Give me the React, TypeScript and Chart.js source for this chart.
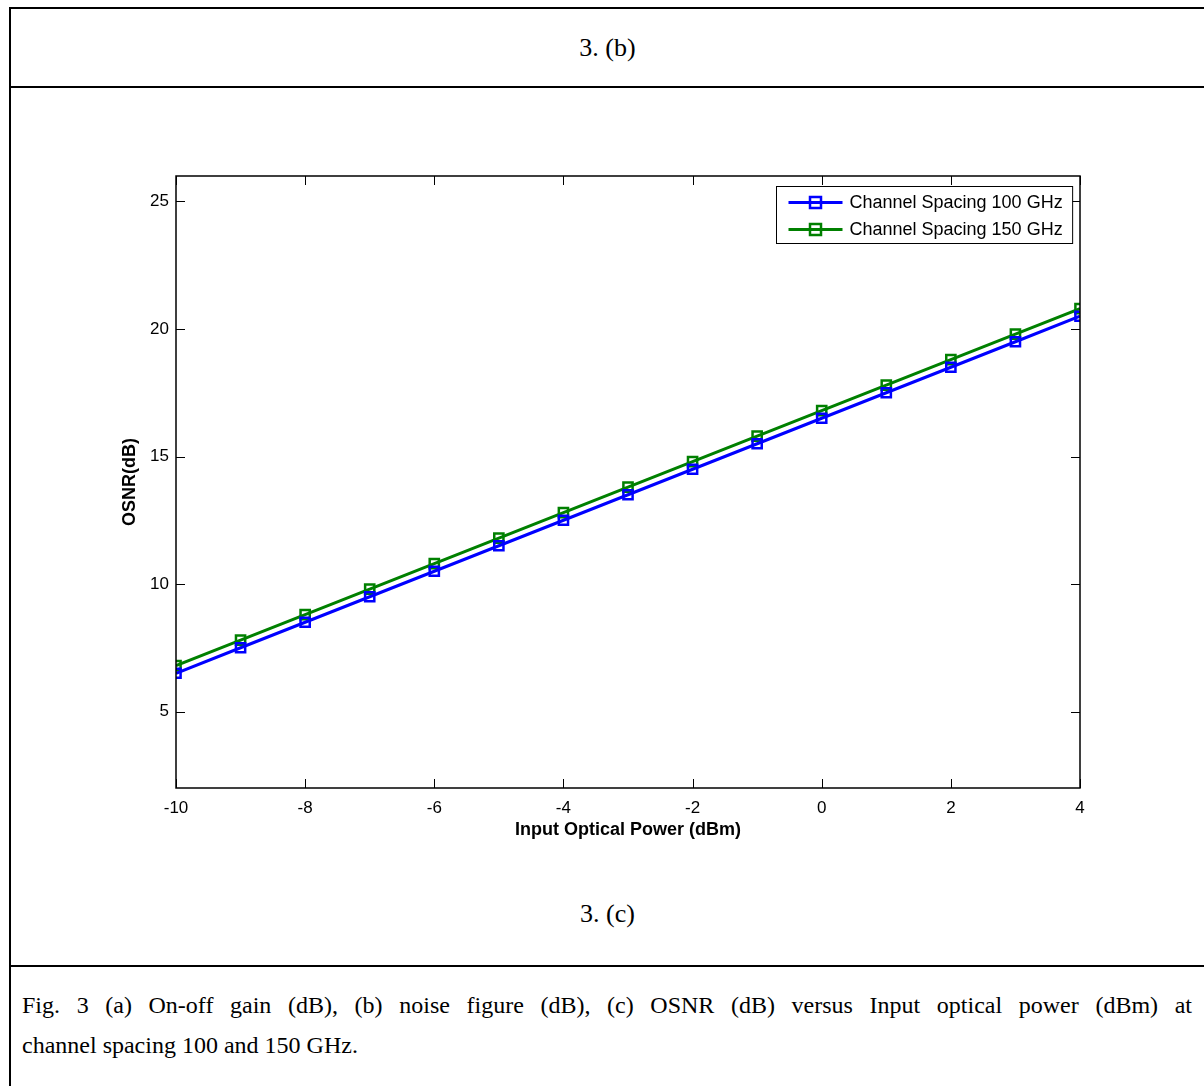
import React, { useEffect, useRef } from "react";
import { Chart, registerables } from "chart.js";

Chart.register(...registerables);

// ---- data ----
const inputPower = [-10, -9, -8, -7, -6, -5, -4, -3, -2, -1, 0, 1, 2, 3, 4];
const osnr100 = [6.5, 7.5, 8.5, 9.5, 10.5, 11.5, 12.5, 13.5, 14.5, 15.5, 16.5, 17.5, 18.5, 19.5, 20.5];
const osnr150 = [6.8, 7.8, 8.8, 9.8, 10.8, 11.8, 12.8, 13.8, 14.8, 15.8, 16.8, 17.8, 18.8, 19.8, 20.8];
const seriesLabels = ["Channel Spacing 100 GHz", "Channel Spacing 150 GHz"];
const xTicks = [-10, -8, -6, -4, -2, 0, 2, 4];
const yTicks = [5, 10, 15, 20, 25];
const xTitle = "Input Optical Power (dBm)";
const yTitle = "OSNR(dB)";
const topLabel = "3. (b)";
const bottomLabel = "3. (c)";
const captionLine1 =
  "Fig. 3 (a) On-off gain (dB), (b) noise figure (dB), (c) OSNR (dB) versus Input optical power (dBm) at";
const captionLine2 = "channel spacing 100 and 150 GHz.";

const SANS = "'Liberation Sans', Arial, Helvetica, sans-serif";
const SERIF = "'Liberation Serif', 'Times New Roman', Times, serif";

const framePlugin = {
  id: "matlabFrame",
  afterDraw(chart: any) {
    const { ctx, chartArea } = chart;
    const { left, right, top, bottom } = chartArea;
    const tl = 9;
    ctx.save();
    ctx.strokeStyle = "#000";
    ctx.lineWidth = 1.5;
    ctx.strokeRect(left, top, right - left, bottom - top);
    ctx.lineWidth = 1;
    const xs = chart.scales.x;
    const ys = chart.scales.y;
    ctx.beginPath();
    xs.ticks.forEach((t: any) => {
      const px = Math.round(xs.getPixelForValue(t.value)) + 0.5;
      ctx.moveTo(px, bottom);
      ctx.lineTo(px, bottom - tl);
      ctx.moveTo(px, top);
      ctx.lineTo(px, top + tl);
    });
    ys.ticks.forEach((t: any) => {
      const py = Math.round(ys.getPixelForValue(t.value)) + 0.5;
      ctx.moveTo(left, py);
      ctx.lineTo(left + tl, py);
      ctx.moveTo(right, py);
      ctx.lineTo(right - tl, py);
    });
    ctx.stroke();

    // legend box (MATLAB style)
    const font = `18px ${SANS}`;
    ctx.font = font;
    const ds = chart.data.datasets;
    const textW = Math.max(...ds.map((d: any) => ctx.measureText(d.label).width));
    const padL = 12, lineLen = 54, gap = 7, padR = 10, rowH = 27;
    const boxW = padL + lineLen + gap + textW + padR;
    const boxH = rowH * ds.length + 3;
    const bx = Math.round(right - 8 - boxW) + 0.5;
    const by = Math.round(top + 10) + 0.5;
    ctx.fillStyle = "#fff";
    ctx.fillRect(bx, by, boxW, boxH);
    ctx.lineWidth = 1;
    ctx.strokeStyle = "#000";
    ctx.strokeRect(bx, by, boxW, boxH);
    ds.forEach((d: any, i: number) => {
      const cy = by + 16 + i * rowH;
      const x0 = bx + padL;
      ctx.strokeStyle = d.borderColor;
      ctx.lineWidth = 3;
      ctx.beginPath();
      ctx.moveTo(x0, cy);
      ctx.lineTo(x0 + lineLen, cy);
      ctx.stroke();
      ctx.lineWidth = 2.5;
      const r = 5.5;
      ctx.strokeRect(x0 + lineLen / 2 - r, cy - r, 2 * r, 2 * r);
      ctx.fillStyle = "#000";
      ctx.textBaseline = "middle";
      ctx.textAlign = "left";
      ctx.font = font;
      ctx.fillText(d.label, x0 + lineLen + gap, cy + 1);
    });
    ctx.restore();
  },
};

export default function App() {
  const ref = useRef<HTMLCanvasElement>(null);

  useEffect(() => {
    if (!ref.current) return;
    const mk = (ys: number[]) => inputPower.map((x, i) => ({ x, y: ys[i] }));
    const style = (color: string) => ({
      borderColor: color,
      borderWidth: 3,
      pointStyle: "rect",
      pointRadius: 6.5,
      pointBorderWidth: 2.5,
      pointBorderColor: color,
      pointBackgroundColor: "rgba(0,0,0,0)",
      tension: 0,
    });
    const chart = new Chart(ref.current, {
      type: "line",
      data: {
        datasets: [
          { label: seriesLabels[0], data: mk(osnr100), ...style("#0000ff") },
          { label: seriesLabels[1], data: mk(osnr150), ...style("#008000") },
        ] as any,
      },
      options: {
        responsive: false,
        animation: false,
        events: [],
        layout: { padding: { left: 28, right: 40, top: 26, bottom: 22 } },
        plugins: { legend: { display: false }, tooltip: { enabled: false } },
        scales: {
          x: {
            type: "linear",
            min: -10,
            max: 4,
            border: { display: false },
            grid: { display: false, drawTicks: false },
            afterBuildTicks: (s: any) => {
              s.ticks = xTicks.map((v) => ({ value: v }));
            },
            afterFit: (s: any) => {
              s.height = 60;
            },
            ticks: {
              color: "#000",
              padding: 10,
              maxRotation: 0,
              autoSkip: false,
              font: { family: SANS, size: 17 },
              callback: (v: any) => String(v),
            },
            title: {
              display: true,
              text: xTitle,
              color: "#000",
              font: { family: SANS, size: 18, weight: "bold" },
              padding: { top: 0, bottom: 7 },
            },
          },
          y: {
            type: "linear",
            min: 2,
            max: 26,
            border: { display: false },
            grid: { display: false, drawTicks: false },
            afterBuildTicks: (s: any) => {
              s.ticks = yTicks.map((v) => ({ value: v }));
            },
            afterFit: (s: any) => {
              s.width = 68;
            },
            ticks: {
              color: "#000",
              padding: 7,
              autoSkip: false,
              font: { family: SANS, size: 17 },
              callback: (v: any) => String(v),
            },
            title: {
              display: true,
              text: yTitle,
              color: "#000",
              font: { family: SANS, size: 18, weight: "bold" },
              padding: { top: 11, bottom: 0 },
            },
          },
        },
      },
      plugins: [framePlugin],
    });
    return () => chart.destroy();
  }, []);

  const line = (l: number, t: number, w: number, h: number): React.CSSProperties => ({
    position: "absolute",
    left: l,
    top: t,
    width: w,
    height: h,
    background: "#000",
  });

  const serifText: React.CSSProperties = {
    position: "absolute",
    fontFamily: SERIF,
    color: "#000",
  };

  return (
    <div>
      <div style={line(9, 7, 1195, 2)} />
      <div style={line(9, 7, 2, 1079)} />
      <div style={line(9, 86, 1195, 2)} />
      <div style={line(9, 965, 1195, 2)} />
      <div
        style={{ ...serifText, left: 11, width: 1193, top: 33, fontSize: 26, textAlign: "center", lineHeight: "30px" }}
      >
        {topLabel}
      </div>
      <canvas
        ref={ref}
        width={1040}
        height={720}
        style={{ position: "absolute", left: 80, top: 150, width: 1040, height: 720 }}
      />
      <div
        style={{ ...serifText, left: 11, width: 1193, top: 899, fontSize: 26, textAlign: "center", lineHeight: "30px" }}
      >
        {bottomLabel}
      </div>
      <div
        style={{
          ...serifText,
          left: 22,
          width: 1170,
          top: 985,
          fontSize: 24,
          lineHeight: "40px",
        }}
      >
        <div style={{ textAlign: "justify", textAlignLast: "justify" } as React.CSSProperties}>{captionLine1}</div>
        <div style={{ textAlign: "left" }}>{captionLine2}</div>
      </div>
    </div>
  );
}
